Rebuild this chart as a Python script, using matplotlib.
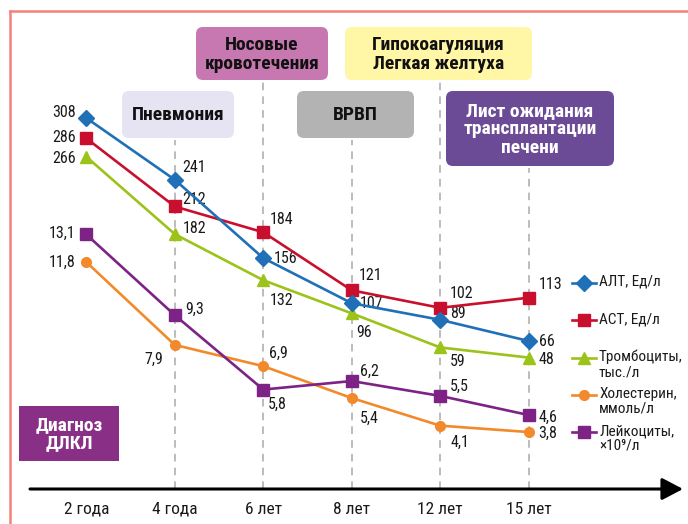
import matplotlib.pyplot as plt
from matplotlib.patches import FancyBboxPatch, Rectangle

plt.rcParams['font.family'] = ['Roboto Condensed', 'DejaVu Sans']

# Data
periods = ['2 года', '4 года', '6 лет', '8 лет', '12 лет', '15 лет']
alt = [308, 241, 156, 107, 89, 66]
ast = [286, 212, 184, 121, 102, 113]
platelets = [266, 182, 132, 96, 59, 48]
cholesterol = [11.8, 7.9, 6.9, 5.4, 4.1, 3.8]
leukocytes = [13.1, 9.3, 5.8, 6.2, 5.5, 4.6]

# label offsets in pixels (dx, dy); dx < 0 means text to the left
alt_off = [(-10, 5), (7, 12), (10, 0), (8, 0), (10, 6), (10, 0)]
ast_off = [(-10, 1), (7, 7), (6, 13), (7, 15), (10, 14), (10, 13)]
plt_off = [(-10, -2), (8, 6), (6, -20), (5, -19), (10, -14), (10, -2)]
chol_off = [(-11, 0), (-12, -14), (6, 13), (8, -20), (10, -17), (10, -1)]
leu_off = [(-11, 1), (10, 6), (5, -15), (8, 10), (10, 10), (10, -2)]

fig = plt.figure(figsize=(6.88, 5.24), dpi=100)
ax = fig.add_axes([0, 1 - 489 / 524, 1, 489 / 524])
ax2 = ax.twinx()
x = list(range(len(periods)))

for a in (ax, ax2):
    a.set_facecolor('none')
    for s in a.spines.values():
        s.set_visible(False)
    a.set_yticks([])
ax.set_xlim(-0.975, 6.80)
ax.set_ylim(-94.6, 436.05)
ax2.set_ylim(1.12, 24.13)
ax.set_xticks(x, periods)
ax.tick_params(axis='x', length=0, pad=9, labelsize=12.5, labelcolor='#1a1a1a')

# vertical dashed guides, ending under the event boxes
tops = [None, 140, 80, 140, 80, 168]
for i, t in zip(x, tops):
    if t is None:
        continue
    ax.axvline(i, ymin=0, ymax=(489 - t) / 489, color='#aaaaaa', lw=1.1,
               dashes=(5, 4), zorder=0)

series = [
    (ax, alt, '#2070b8', 'D', 8, alt_off, 'АЛТ, Ед/л', 5),
    (ax, ast, '#c8102e', 's', 8, ast_off, 'АСТ, Ед/л', 4),
    (ax, platelets, '#9cc31a', '^', 8.5, plt_off, 'Тромбоциты,\nтыс./л', 3),
    (ax2, cholesterol, '#f28a2c', 'o', 7, chol_off, 'Холестерин,\nммоль/л', 3),
    (ax2, leukocytes, '#7c2385', 's', 8, leu_off, 'Лейкоциты,\n×10⁹/л', 4),
]

for a, vals, col, mk, ms, offs, name, z in series:
    a.plot(x, vals, color=col, lw=1.9, marker=mk, markersize=ms, zorder=z)
    for xi, v, (dx, dy) in zip(x, vals, offs):
        txt = str(v).replace('.', ',')
        a.annotate(txt, (xi, v), xytext=(dx, dy), textcoords='offset pixels',
                   ha='right' if dx < 0 else 'left', va='center',
                   fontsize=11.5, color='#1a1a1a')

# overlay in pixel coordinates for frame, boxes, arrow and legend
ov = fig.add_axes([0, 0, 1, 1])
ov.set_xlim(0, 688)
ov.set_ylim(524, 0)
ov.axis('off')

ov.plot([10, 10], [524, 11], color='#f4817a', lw=1.8)
ov.plot([10, 688], [11, 11], color='#f4817a', lw=1.8)

ov.annotate('', xy=(683, 489), xytext=(30, 489),
            arrowprops=dict(arrowstyle='-|>,head_length=0.8,head_width=0.42',
                            lw=2.2, color='black', mutation_scale=16,
                            shrinkA=0, shrinkB=0))

boxes = [
    (122, 91, 234, 138, '#e6e3f3', 'Пневмония', '#111111'),
    (196, 27, 328, 80, '#c878b0', 'Носовые\nкровотечения', '#111111'),
    (297, 91, 414, 138, '#b3b3b3', 'ВРВП', '#111111'),
    (345, 27, 532, 80, '#fff6a6', 'Гипокоагуляция\nЛегкая желтуха', '#111111'),
    (446, 91, 614, 166, '#6b4a96', 'Лист ожидания\nтрансплантации\nпечени', 'white'),
]
for x0, y0, x1, y1, fc, label, tc in boxes:
    ov.add_patch(FancyBboxPatch((x0, y0), x1 - x0, y1 - y0,
                                boxstyle='round,pad=0,rounding_size=7',
                                fc=fc, ec='none'))
    ov.text((x0 + x1) / 2, (y0 + y1) / 2 + 1, label, ha='center', va='center',
            fontsize=14, fontweight='bold', color=tc, linespacing=1.05)

ov.add_patch(Rectangle((19, 406), 100, 55, fc='#8a2f86', ec='none'))
ov.text(69, 434, 'Диагноз\nДЛКЛ', ha='center', va='center', fontsize=14,
        fontweight='bold', color='white', linespacing=1.05)

# legend
leg_y = [283, 320, 358, 395, 432]
for (a, vals, col, mk, ms, offs, name, z), ly in zip(series, leg_y):
    ov.plot([572, 596], [ly, ly], color=col, lw=1.9)
    ov.plot([584], [ly], color=col, marker=mk, markersize=ms)
    ov.text(599, ly - 8, name, ha='left', va='top', fontsize=11,
            color='#1a1a1a', linespacing=1.05)

fig.savefig('out.png', dpi=100)
